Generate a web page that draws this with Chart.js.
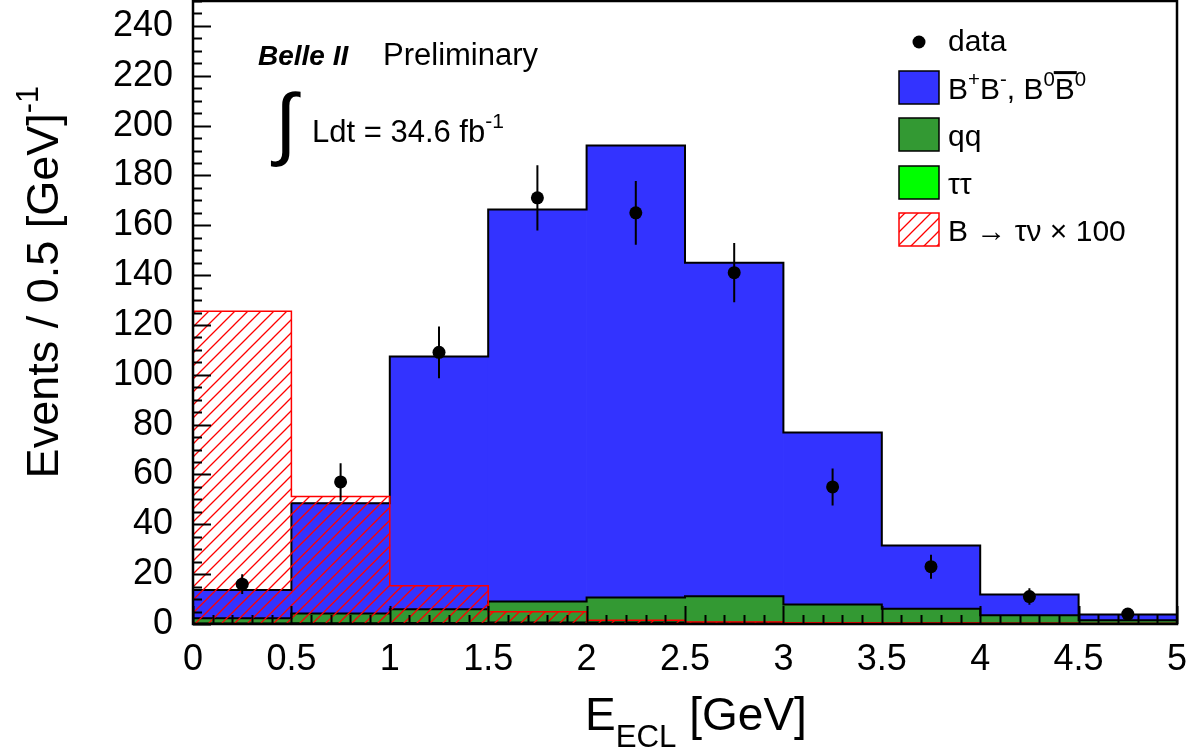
<!DOCTYPE html>
<html>
<head>
<meta charset="utf-8">
<script src="https://cdn.jsdelivr.net/npm/chart.js@4.4.1/dist/chart.umd.min.js"></script>
<style>
  html, body { margin: 0; padding: 0; background: #fff; }
  #wrap { width: 1203px; height: 756px; }
</style>
</head>
<body>
<div id="wrap"><canvas id="eclChart" width="1203" height="756"></canvas></div>
<script>
// bin centres of E_ECL [GeV], 0.5 GeV wide bins
const binCenters = [0.25, 0.75, 1.25, 1.75, 2.25, 2.75, 3.25, 3.75, 4.25, 4.75];
const binEdges = [0, 0.5, 1, 1.5, 2, 2.5, 3, 3.5, 4, 4.5, 5];

// stacked backgrounds
const tautauValues = [0.3, 0.4, 0.5, 0.7, 0.7, 0.6, 0.5, 0.4, 0.3, 0.2];
const qqValues     = [2.0, 3.8, 5.4, 8.3, 9.9, 10.5, 7.3, 5.7, 3.2, 1.3];
const bbValues     = [11.3, 44.3, 101.4, 157.3, 181.4, 133.9, 69.0, 25.4, 8.3, 2.3];

// signal B -> tau nu, scaled x100, drawn from zero
const signalValues = [125.5, 51.2, 15.3, 4.9, 1.5, 0.8, 0.5, 0.4, 0.3, 0.2];

// data points and their errors
const dataValues = [16, 57, 109, 171, 165, 141, 55, 23, 11, 4];
const dataErrors = [4, 7.5, 10.4, 13.1, 12.8, 11.9, 7.4, 4.8, 3.3, 2];

// axis ticks
const yTickValues = [0, 20, 40, 60, 80, 100, 120, 140, 160, 180, 200, 220, 240];
const xTickValues = [0, 0.5, 1, 1.5, 2, 2.5, 3, 3.5, 4, 4.5, 5];
const xTickLabels = ['0', '0.5', '1', '1.5', '2', '2.5', '3', '3.5', '4', '4.5', '5'];

const FONT = "'Liberation Sans', Arial, Helvetica, sans-serif";
Chart.defaults.font.family = FONT;
Chart.defaults.color = '#000';

function hatchPattern() {
  const s = 13;
  const c = document.createElement('canvas');
  c.width = s; c.height = s;
  const g = c.getContext('2d');
  g.strokeStyle = '#ff0000';
  g.lineWidth = 1.3;
  g.beginPath();
  g.moveTo(0, s); g.lineTo(s, 0);
  g.moveTo(-2, 2); g.lineTo(2, -2);
  g.moveTo(s - 2, s + 2); g.lineTo(s + 2, s - 2);
  g.stroke();
  return g.createPattern(c, 'repeat');
}
const hatch = hatchPattern();

function points(vals) {
  return binCenters.map((x, i) => ({x: x, y: vals[i]}));
}
// histogram outline: step line, one point per bin at its right edge
function outline(vals) {
  const pts = [{x: binEdges[0], y: 0}];
  vals.forEach((v, i) => pts.push({x: binEdges[i + 1], y: v}));
  pts.push({x: binEdges[binEdges.length - 1], y: 0});
  return pts;
}
const sumTT = tautauValues.slice();
const sumQQ = qqValues.map((v, i) => v + sumTT[i]);
const sumBB = bbValues.map((v, i) => v + sumQQ[i]);

function outlineSet(name, vals, color, width) {
  return {
    type: 'line', label: name, data: outline(vals), stack: name,
    stepped: 'after', borderColor: color, borderWidth: width,
    pointRadius: 0, fill: false
  };
}

// draw text with super/subscripts, returns end x
function drawRich(ctx, x, y, parts, size) {
  ctx.textAlign = 'left';
  ctx.textBaseline = 'alphabetic';
  parts.forEach(p => {
    let fs = size, dy = 0;
    if (p.sup) { fs = size * 0.68; dy = -size * 0.45; }
    if (p.sub) { fs = size * 0.68; dy = size * 0.38; }
    ctx.font = fs + 'px ' + FONT;
    const w = ctx.measureText(p.t).width;
    ctx.fillText(p.t, x, y + dy);
    if (p.over) {
      ctx.fillRect(x - 1, y - size * 0.93, w + 3, 3);
    }
    x += w;
  });
  return x;
}
function richWidth(ctx, parts, size) {
  let w = 0;
  parts.forEach(p => {
    let fs = size;
    if (p.sup || p.sub) fs = size * 0.68;
    ctx.font = fs + 'px ' + FONT;
    w += ctx.measureText(p.t).width;
  });
  return w;
}

const frameTicks = {
  id: 'frameTicks',
  afterDatasetsDraw(chart) {
    const {ctx, chartArea: a, scales: {x, y}} = chart;
    ctx.save();
    ctx.strokeStyle = '#000';
    ctx.lineWidth = 2;
    ctx.beginPath();
    for (let v = 0; v <= 250.001; v += 5) {
      const py = Math.round(y.getPixelForValue(v)) + 0.5;
      const len = (Math.round(v) % 20 === 0) ? 18 : 9;
      ctx.moveTo(a.left, py); ctx.lineTo(a.left + len, py);
    }
    for (let i = 0; i <= 50; i++) {
      const px = Math.round(x.getPixelForValue(i / 10)) + 0.5;
      const len = (i % 5 === 0) ? 18 : 9;
      ctx.moveTo(px, a.bottom); ctx.lineTo(px, a.bottom - len);
    }
    ctx.stroke();
    ctx.lineWidth = 2.5;
    ctx.strokeRect(a.left, a.top, a.right - a.left, a.bottom - a.top);
    ctx.restore();
  }
};

const errorBars = {
  id: 'errorBars',
  afterDatasetsDraw(chart) {
    const {ctx, scales: {x, y}} = chart;
    ctx.save();
    ctx.strokeStyle = '#000';
    ctx.lineWidth = 2;
    ctx.beginPath();
    binCenters.forEach((c, i) => {
      const px = x.getPixelForValue(c);
      ctx.moveTo(px, y.getPixelForValue(dataValues[i] - dataErrors[i]));
      ctx.lineTo(px, y.getPixelForValue(dataValues[i] + dataErrors[i]));
    });
    ctx.stroke();
    ctx.restore();
  }
};

const dataSet = {
  type: 'line', label: 'data', data: points(dataValues), stack: 'data',
  showLine: false, pointRadius: 6.5, pointBackgroundColor: '#000', pointBorderWidth: 0
};
const sigSet = {
  label: 'B \u2192 \u03C4\u03BD \u00D7 100', data: points(signalValues), stack: 'sig', grouped: false,
  backgroundColor: hatch, borderWidth: 0, edge: '#ff0000'
};
const ttSet = {
  label: '\u03C4\u03C4', data: points(tautauValues), stack: 'bg', grouped: false,
  backgroundColor: '#00ff00', borderWidth: 0, edge: '#000'
};
const qqSet = {
  label: 'qq', data: points(qqValues), stack: 'bg', grouped: false,
  backgroundColor: '#339933', borderWidth: 0, edge: '#000'
};
const bbSet = {
  label: 'B+B-, B0B0bar', data: points(bbValues), stack: 'bg', grouped: false,
  backgroundColor: '#3333ff', borderWidth: 0, edge: '#000'
};

const texts = {
  id: 'texts',
  afterDraw(chart) {
    const ctx = chart.ctx;
    ctx.save();
    ctx.fillStyle = '#000';

    // axis titles
    const xt = [{t: 'E'}, {t: 'ECL', sub: true}, {t: ' [GeV]'}];
    drawRich(ctx, 585, 730, xt, 46);
    const yt = [{t: 'Events / 0.5 [GeV]'}, {t: '-1', sup: true}];
    const yw = richWidth(ctx, yt, 45);
    ctx.save();
    ctx.translate(58, 86 + yw);
    ctx.rotate(-Math.PI / 2);
    drawRich(ctx, 0, 0, yt, 45);
    ctx.restore();

    // Belle II label
    ctx.font = 'italic bold 28px ' + FONT;
    ctx.fillText('Belle II', 258, 65);
    ctx.font = '31px ' + FONT;
    ctx.fillText('Preliminary', 383, 65);
    ctx.font = '80px ' + FONT;
    ctx.fillText('\u222B', 275, 150);
    drawRich(ctx, 312, 142, [{t: 'Ldt = 34.6 fb'}, {t: '-1', sup: true}], 31);

    // legend
    const sw = 40, sh = 33, sx = 899, tx = 948, fs = 30;
    ctx.beginPath();
    ctx.arc(919, 42, 6.5, 0, Math.PI * 2);
    ctx.fill();
    ctx.font = fs + 'px ' + FONT;
    ctx.fillText(dataSet.label, tx, 51);
    const rows = [
      {d: bbSet, top: 71, parts: [{t: 'B'}, {t: '+', sup: true}, {t: 'B'}, {t: '-', sup: true}, {t: ', B'}, {t: '0', sup: true}, {t: 'B', over: true}, {t: '0', sup: true}]},
      {d: qqSet, top: 118, parts: [{t: qqSet.label}]},
      {d: ttSet, top: 166, parts: [{t: ttSet.label}]},
      {d: sigSet, top: 213, parts: [{t: 'B '}, {t: '\u2192'}, {t: ' \u03C4\u03BD \u00D7 100'}]}
    ];
    rows.forEach(r => {
      ctx.fillStyle = '#fff';
      ctx.fillRect(sx, r.top, sw, sh);
      ctx.fillStyle = r.d.backgroundColor;
      ctx.fillRect(sx, r.top, sw, sh);
      ctx.strokeStyle = r.d.edge;
      ctx.lineWidth = 1.5;
      ctx.strokeRect(sx, r.top, sw, sh);
      ctx.fillStyle = '#000';
      drawRich(ctx, tx, r.top + 28, r.parts, fs);
    });
    ctx.restore();
  }
};

new Chart(document.getElementById('eclChart'), {
  type: 'bar',
  data: {
    datasets: [
      dataSet,
      outlineSet('sigLine', signalValues, '#ff0000', 1.5),
      sigSet,
      outlineSet('ttLine', sumTT, '#000', 1.5),
      outlineSet('qqLine', sumQQ, '#000', 2),
      outlineSet('bbLine', sumBB, '#000', 2),
      ttSet,
      qqSet,
      bbSet
    ]
  },
  options: {
    responsive: false,
    devicePixelRatio: 1,
    animation: false,
    barPercentage: 1,
    categoryPercentage: 1,
    layout: {autoPadding: false, padding: {top: 1, right: 26, left: 0, bottom: 0}},
    scales: {
      x: {
        type: 'linear', min: 0, max: 5, offset: false,
        grid: {display: false, drawTicks: false}, border: {display: false},
        ticks: {font: {size: 36}, padding: 14, maxRotation: 0, autoSkip: false,
          callback: v => { const i = xTickValues.indexOf(v); return i < 0 ? '' : xTickLabels[i]; }},
        afterBuildTicks: s => { s.ticks = xTickValues.map(v => ({value: v})); },
        afterFit: s => { s.height = 132; s.paddingLeft = 0; s.paddingRight = 0; }
      },
      y: {
        stacked: true, min: 0, max: 250,
        grid: {display: false, drawTicks: false}, border: {display: false},
        ticks: {font: {size: 36}, padding: 20},
        afterBuildTicks: s => { s.ticks = yTickValues.map(v => ({value: v})); },
        afterFit: s => { s.width = 193; s.paddingTop = 0; s.paddingBottom = 0; }
      }
    },
    plugins: {
      legend: {display: false},
      tooltip: {enabled: false}
    }
  },
  plugins: [frameTicks, errorBars, texts]
});
</script>
</body>
</html>
